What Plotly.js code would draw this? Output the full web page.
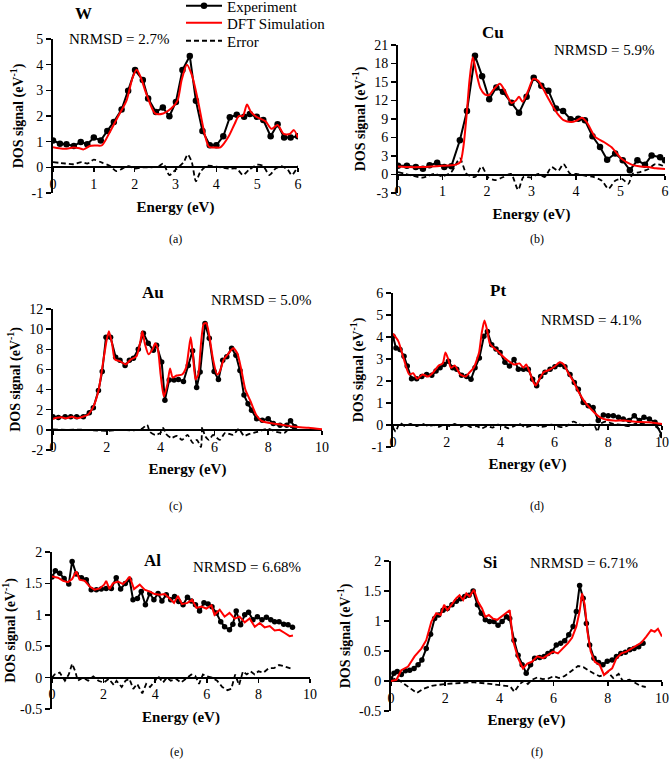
<!DOCTYPE html>
<html>
<head>
<meta charset="utf-8">
<script src="https://cdn.plot.ly/plotly-3.0.1.min.js"></script>
<style>
  body { margin: 0; background: #fff; }
  #chart { width: 671px; height: 764px; }
</style>
</head>
<body>
<div id="chart"></div>
<script>
// ======================== W =========================
const wExpX = [0,0.17,0.33,0.51,0.68,0.84,1.0,1.17,1.33,1.49,1.68,1.84,2.01,2.2,2.33,2.52,2.69,2.85,3.01,3.17,3.35,3.5,3.66,3.84,4.0,4.17,4.33,4.5,4.68,4.82,4.99,5.15,5.33,5.5,5.66,5.82,6.0];
const wExpY = [1.05,0.92,0.9,0.83,0.99,0.9,1.16,1.05,1.42,1.77,2.25,2.98,3.79,3.4,2.68,2.16,2.33,1.99,2.55,3.79,4.34,2.59,1.42,0.86,0.86,1.21,1.95,2.05,1.97,2.08,1.97,1.84,1.21,1.68,1.16,1.16,1.21];
const wDftX = [0,0.15,0.3,0.5,0.65,0.75,0.9,1.05,1.2,1.4,1.6,1.8,1.95,2.05,2.15,2.3,2.5,2.7,2.9,3.05,3.15,3.28,3.4,3.55,3.7,3.82,4.0,4.1,4.3,4.45,4.55,4.65,4.75,4.85,5.0,5.2,5.35,5.5,5.65,5.8,5.9,6.0];
const wDftY = [0.78,0.74,0.72,0.77,0.74,0.7,0.83,0.85,0.86,1.4,2.0,2.6,3.5,3.8,3.5,2.8,2.1,2.1,2.3,2.6,3.4,4.0,3.6,2.6,1.4,0.8,0.77,0.78,1.2,1.7,2.0,2.0,2.45,2.15,1.95,1.8,1.5,1.65,1.3,1.3,1.45,1.15];
const wErrX = [0,0.3,0.5,0.7,0.85,1.0,1.2,1.4,1.55,1.7,1.85,2.0,2.2,2.4,2.6,2.7,2.85,3.0,3.2,3.3,3.4,3.5,3.6,3.75,3.9,4.1,4.3,4.5,4.65,4.8,5.0,5.15,5.3,5.45,5.6,5.75,5.85,6.0];
const wErrY = [0.2,0.15,0.12,0.2,0.15,0.3,0.18,0.05,-0.15,-0.05,0.05,-0.05,0,0,0.05,0.15,-0.3,-0.1,0.2,0.5,0.2,-0.55,-0.2,0.05,0.05,0,-0.05,-0.05,-0.3,-0.1,0.1,0.05,-0.3,-0.05,0.05,-0.1,-0.3,0.05];

// ======================== Cu =========================
const cuExpX = [0,0.2,0.4,0.56,0.71,0.88,1.04,1.2,1.39,1.55,1.73,1.89,2.05,2.21,2.36,2.55,2.72,2.89,3.05,3.22,3.38,3.55,3.71,3.88,4.05,4.2,4.37,4.54,4.7,4.88,5.05,5.21,5.38,5.55,5.7,5.89,6.0];
const cuExpY = [1.4,1.4,1.2,0.95,1.5,1.9,1.2,1.35,5.55,10.3,19.25,15.95,12.2,14.1,13.4,11.65,10.0,12.6,15.7,14.4,13.6,10.7,10.3,8.95,9.05,8.8,6.2,4.46,2.4,3.4,2.3,0.7,2.3,1.6,3.1,2.8,2.3];
const cuDftX = [0,0.25,0.5,0.75,1.0,1.2,1.3,1.4,1.47,1.54,1.61,1.68,1.76,1.85,1.95,2.05,2.15,2.29,2.42,2.55,2.65,2.72,2.8,2.92,3.04,3.15,3.26,3.38,3.49,3.6,3.72,3.9,4.0,4.13,4.24,4.43,4.62,4.8,5.03,5.25,5.45,5.63,5.8,6.0];
const cuDftY = [1.3,1.2,1.2,1.3,1.4,1.5,1.6,2.0,4.5,9.5,15.5,19.0,16.5,14.0,13.0,12.9,13.8,14.7,13.3,11.6,12.0,12.6,11.8,13.5,15.5,15.2,13.9,12.3,10.9,9.7,8.8,8.5,8.7,9.2,8.5,6.1,5.3,4.4,2.5,1.6,1.3,1.2,1.0,0.9];
const cuErrX = [0,0.3,0.55,0.83,1.0,1.2,1.39,1.54,1.73,1.88,2.03,2.18,2.37,2.54,2.7,2.82,3.0,3.15,3.3,3.45,3.6,3.72,3.87,4.01,4.2,4.39,4.58,4.73,4.88,5.03,5.18,5.27,5.44,5.63,5.78,6.0];
const cuErrY = [0.4,-0.15,-0.5,0.1,-0.3,0.4,2.6,0.1,-0.4,1.3,-0.5,-0.9,-0.4,0.1,-2.5,-0.4,-0.5,0.1,-0.4,1.2,0.6,1.7,0.1,0.1,-0.2,-0.4,-1.0,-2.3,-1.0,-0.7,-1.5,0.1,0.4,0.9,1.7,1.3];

// ======================== Au =========================
const auExpX = [0,0.2,0.45,0.66,0.88,1.13,1.35,1.5,1.69,1.83,1.97,2.14,2.33,2.49,2.68,2.84,2.99,3.17,3.36,3.54,3.73,3.85,4.04,4.16,4.32,4.5,4.66,4.85,5.03,5.19,5.34,5.47,5.65,5.81,5.99,6.15,6.31,6.46,6.64,6.8,6.95,7.1,7.25,7.38,7.57,7.78,8.0,8.19,8.44,8.69,8.83,8.99];
const auExpY = [1.3,1.22,1.3,1.3,1.3,1.3,1.7,2.2,3.9,5.8,9.2,9.2,7.2,6.9,6.4,6.9,7.1,8.0,9.6,8.6,7.9,8.4,6.75,2.95,4.95,4.95,5.0,4.8,6.4,7.85,4.2,5.75,10.55,9.1,5.8,5.0,6.9,7.25,8.1,7.4,5.9,3.45,2.6,1.95,1.1,0.96,1.1,0.63,0.46,0.46,0.9,0.3];
const auDftX = [0,0.15,0.3,0.5,0.7,0.9,1.1,1.3,1.5,1.7,1.85,2.0,2.08,2.2,2.3,2.5,2.7,2.9,3.1,3.25,3.32,3.42,3.55,3.7,3.8,3.9,4.0,4.12,4.25,4.35,4.45,4.6,4.8,4.95,5.05,5.12,5.2,5.3,5.4,5.5,5.6,5.7,5.8,5.95,6.1,6.2,6.35,6.5,6.7,6.85,7.0,7.15,7.35,7.55,7.75,8.0,8.5,9.0,9.5,10.0];
const auDftY = [1.1,1.2,1.25,1.15,1.3,1.15,1.3,1.5,2.3,4.0,6.5,9.0,9.8,8.5,7.0,6.8,6.5,7.0,7.3,8.8,9.8,8.5,7.5,8.0,8.6,8.0,5.5,3.3,4.5,6.1,5.2,5.4,5.5,6.2,8.0,9.2,7.5,5.0,5.5,8.5,10.5,10.6,9.5,7.0,5.5,5.8,7.0,7.5,8.1,7.6,6.0,4.0,2.8,1.5,0.9,0.7,0.5,0.3,0.2,0.05];
const auErrX = [0,0.5,1.0,1.5,2.0,2.5,3.0,3.3,3.5,3.6,3.8,4.0,4.1,4.2,4.4,4.6,4.8,5.0,5.2,5.35,5.5,5.55,5.65,5.8,5.95,6.2,6.4,6.7,6.9,7.1,7.3,7.6,8.0,8.3,8.6,8.85,9.0];
const auErrY = [0.05,0,0.02,-0.05,-0.1,0,-0.05,0.1,0.5,-0.2,-0.5,-0.3,0.2,-0.4,-0.8,-0.6,-1.0,-0.5,-1.3,-1.0,-1.7,0.3,-0.6,-1.0,-0.5,-1.0,-0.3,-0.5,0.1,-0.6,-0.4,-0.2,0.1,-0.2,-0.3,0.3,-0.1];

// ======================== Pt =========================
const ptExpX = [0,0.11,0.26,0.41,0.53,0.69,0.88,1.07,1.25,1.44,1.6,1.75,1.9,2.06,2.22,2.37,2.55,2.74,2.9,3.05,3.21,3.38,3.51,3.67,3.83,3.98,4.16,4.33,4.5,4.66,4.85,5.03,5.19,5.34,5.49,5.65,5.84,6.02,6.21,6.39,6.58,6.74,6.89,7.07,7.26,7.44,7.63,7.82,8.0,8.19,8.38,8.56,8.78,8.97,9.16,9.33,9.53,9.74,10.0];
const ptExpY = [4.03,3.5,3.43,3.13,2.68,2.1,2.1,2.2,2.3,2.26,2.45,2.6,2.75,2.9,2.6,2.53,2.26,2.2,2.08,2.6,3.05,4.03,4.25,3.65,3.46,3.3,2.85,2.68,2.98,2.53,2.53,2.53,2.08,1.78,2.2,2.4,2.53,2.65,2.75,2.65,2.3,1.93,1.62,1.02,0.87,0.8,0.2,0.45,0.42,0.42,0.35,0.27,0.2,0.42,0.2,0.35,0.27,0.12,-0.48];
const ptDftX = [0,0.2,0.4,0.6,0.75,0.9,1.1,1.3,1.5,1.7,1.85,1.95,2.05,2.15,2.3,2.5,2.7,2.85,3.0,3.2,3.3,3.4,3.5,3.6,3.75,3.9,4.1,4.3,4.5,4.7,4.85,4.95,5.05,5.2,5.3,5.45,5.6,5.8,6.0,6.2,6.35,6.5,6.7,6.9,7.1,7.3,7.5,7.7,7.9,8.2,8.6,9.0,9.5,10.0];
const ptDftY = [4.15,3.8,3.0,2.3,2.35,2.1,2.3,2.2,2.4,2.7,2.8,3.3,3.0,2.6,2.7,2.3,2.2,2.4,2.6,3.3,4.2,4.75,4.3,3.7,3.5,3.35,3.1,2.9,2.75,2.8,2.6,2.75,2.5,2.0,1.8,2.1,2.4,2.5,2.65,2.85,2.75,2.4,2.0,1.5,1.1,0.8,0.55,0.35,0.25,0.2,0.2,0.15,0.12,0.05];
const ptErrX = [0,0.1,0.25,0.45,0.65,0.9,1.1,1.3,1.5,1.7,1.9,2.1,2.3,2.5,2.7,2.9,3.1,3.3,3.5,3.7,3.9,4.1,4.3,4.5,4.7,4.9,5.1,5.3,5.5,5.7,5.9,6.1,6.3,6.5,6.7,6.9,7.1,7.3,7.5,7.6,7.7,7.9,8.2,8.5,8.8,9.1,9.4,9.7,9.9,10.0];
const ptErrY = [-0.1,-0.3,0.1,-0.05,0.05,-0.05,0.05,-0.05,0,-0.08,0.02,-0.05,0.05,-0.08,0.02,-0.1,-0.05,-0.15,-0.05,-0.12,0.02,-0.05,-0.15,-0.05,0.05,-0.1,-0.05,0,-0.08,-0.05,0.02,-0.05,-0.1,-0.02,0.15,0.05,-0.05,0.02,-0.05,-0.3,0.05,0.15,0.05,0,-0.05,0.1,0.02,-0.02,-0.2,-0.5];

// ======================== Al =========================
const alExpX = [0,0.13,0.3,0.47,0.65,0.78,0.94,1.14,1.33,1.52,1.72,1.91,2.1,2.3,2.49,2.66,2.84,3.01,3.14,3.31,3.46,3.62,3.79,3.95,4.11,4.26,4.43,4.6,4.75,4.91,5.08,5.25,5.4,5.56,5.72,5.89,6.05,6.2,6.37,6.54,6.69,6.88,7.01,7.14,7.31,7.47,7.62,7.79,7.96,8.14,8.31,8.48,8.63,8.8,8.98,9.15,9.32];
const alExpY = [1.6,1.7,1.66,1.58,1.49,1.85,1.65,1.59,1.56,1.4,1.4,1.41,1.42,1.42,1.59,1.41,1.5,1.56,1.24,1.26,1.37,1.16,1.34,1.24,1.34,1.22,1.32,1.24,1.29,1.21,1.16,1.28,1.22,1.16,1.06,1.19,1.17,1.13,1.03,0.89,0.81,0.76,0.85,1.06,0.84,1.0,1.04,0.92,0.97,0.92,0.96,0.92,0.89,0.89,0.85,0.84,0.8];
const alDftX = [0,0.23,0.43,0.62,0.78,0.94,1.07,1.27,1.46,1.65,1.85,2.02,2.1,2.23,2.36,2.56,2.75,2.88,3.01,3.18,3.4,3.59,3.79,3.98,4.18,4.37,4.56,4.73,4.88,5.04,5.25,5.43,5.6,5.79,5.98,6.18,6.3,6.5,6.69,6.88,7.08,7.27,7.47,7.66,7.86,8.05,8.24,8.44,8.63,8.82,9.02,9.21,9.34];
const alDftY = [1.61,1.59,1.54,1.52,1.57,1.69,1.56,1.54,1.45,1.4,1.42,1.48,1.54,1.41,1.5,1.53,1.49,1.54,1.61,1.41,1.48,1.4,1.37,1.33,1.32,1.33,1.26,1.19,1.3,1.17,1.19,1.24,1.11,1.13,1.1,1.15,1.0,1.08,0.97,1.03,0.94,0.97,0.88,0.94,0.81,0.87,0.8,0.82,0.75,0.76,0.71,0.66,0.67];
const alErrX = [0,0.1,0.3,0.5,0.65,0.78,0.9,1.0,1.2,1.4,1.6,1.8,2.0,2.2,2.4,2.5,2.7,2.85,3.0,3.15,3.3,3.5,3.65,3.8,4.0,4.1,4.3,4.45,4.6,4.8,5.0,5.2,5.4,5.55,5.7,5.85,6.0,6.2,6.4,6.6,6.8,6.95,7.1,7.25,7.4,7.55,7.7,7.85,8.0,8.2,8.4,8.6,8.8,9.0,9.3];
const alErrY = [0,0.05,0.08,-0.05,0.05,0.22,0.1,-0.05,0,-0.05,0.02,-0.05,-0.08,-0.02,-0.12,-0.05,-0.15,-0.05,-0.02,-0.18,-0.1,-0.25,-0.1,-0.15,-0.05,0.03,-0.08,0,-0.05,-0.02,-0.08,-0.02,0.05,0.03,-0.1,0.05,0.02,0,-0.05,-0.15,-0.2,-0.18,0.05,-0.12,0.1,0.05,0.1,0.05,0.1,0.08,0.15,0.15,0.2,0.18,0.14];

// ======================== Si =========================
const siExpX = [0,0.11,0.23,0.38,0.53,0.69,0.85,1.0,1.14,1.3,1.46,1.61,1.76,1.92,2.08,2.25,2.41,2.57,2.72,2.88,3.03,3.19,3.33,3.48,3.64,3.8,3.95,4.1,4.26,4.38,4.54,4.69,4.84,4.99,5.15,5.3,5.49,5.65,5.79,5.94,6.1,6.26,6.41,6.56,6.72,6.84,6.96,7.09,7.21,7.33,7.49,7.66,7.82,7.98,8.16,8.32,8.48,8.65,8.81,8.97,9.14,9.3];
const siExpY = [0.03,0.13,0.16,0.11,0.17,0.18,0.21,0.27,0.35,0.54,0.78,1.04,1.1,1.18,1.21,1.27,1.33,1.37,1.41,1.43,1.5,1.27,1.13,1.02,0.99,0.99,0.93,0.99,1.07,1.04,0.68,0.43,0.27,0.13,0.27,0.38,0.39,0.41,0.46,0.49,0.6,0.63,0.67,0.77,0.91,1.16,1.59,1.38,0.96,0.6,0.38,0.31,0.27,0.33,0.35,0.41,0.46,0.48,0.52,0.54,0.57,0.63];
const siDftX = [0,0.2,0.38,0.63,0.87,1.12,1.3,1.49,1.67,1.83,1.96,2.08,2.23,2.41,2.53,2.66,2.78,2.9,3.06,3.21,3.36,3.48,3.61,3.76,3.92,4.07,4.22,4.38,4.5,4.69,4.87,5.03,5.2,5.4,5.61,5.79,5.98,6.16,6.35,6.53,6.68,6.84,6.96,7.05,7.15,7.25,7.37,7.52,7.7,7.86,8.01,8.16,8.32,8.5,8.69,8.87,9.06,9.24,9.42,9.6,9.73,9.85,10.0];
const siDftY = [0,0.02,0.18,0.24,0.41,0.54,0.68,0.99,1.13,1.1,1.27,1.18,1.27,1.38,1.43,1.35,1.46,1.41,1.52,1.32,1.21,1.07,1.1,1.04,1.02,1.07,1.13,1.18,0.68,0.38,0.21,0.29,0.32,0.41,0.38,0.43,0.49,0.46,0.54,0.63,0.72,0.91,1.16,1.46,1.27,0.82,0.49,0.32,0.27,0.1,0.16,0.21,0.38,0.46,0.49,0.54,0.6,0.64,0.74,0.85,0.82,0.87,0.74];
const siErrX = [0,0.2,0.4,0.7,0.95,1.2,1.5,2.0,2.5,3.0,3.5,4.0,4.4,4.55,4.75,4.9,5.05,5.2,5.4,5.6,5.8,6.0,6.2,6.4,6.6,6.9,7.1,7.3,7.5,7.7,7.85,8.0,8.2,8.4,8.55,8.8,9.0,9.2,9.4];
const siErrY = [0,0.05,-0.02,-0.12,-0.2,-0.13,-0.08,-0.05,-0.03,-0.02,-0.04,-0.07,-0.09,-0.18,-0.05,0,-0.05,0.02,0.06,0.03,0.04,0.08,0.05,0.08,0.15,0.25,0.23,0.17,0.12,0.08,0.1,0.15,0.05,0.12,0,0.02,-0.03,-0.08,-0.1];

// ======================== layout helpers =========================
const W = 671, H = 764;
const FONT = "Liberation Serif";
const px = v => v / W;          // pixel -> paper x
const py = v => 1 - v / H;      // pixel -> paper y

// plot boxes in pixels: [left, right, top, bottom], plus axis ranges
const panels = [
  { box: [53, 298, 39, 193],   xr: [0, 6],  yr: [-1, 5],   dy: 1,   sm: 0.7, exp: [wExpX, wExpY],   dft: [wDftX, wDftY],   err: [wErrX, wErrY] },
  { box: [398, 665, 45, 193],  xr: [0, 6],  yr: [-3, 21],  dy: 3,   sm: 0.7, exp: [cuExpX, cuExpY], dft: [cuDftX, cuDftY], err: [cuErrX, cuErrY] },
  { box: [53, 322, 309, 450],  xr: [0, 10], yr: [-2, 12],  dy: 2,   sm: 0.6, exp: [auExpX, auExpY], dft: [auDftX, auDftY], err: [auErrX, auErrY] },
  { box: [393, 662, 293, 447], xr: [0, 10], yr: [-1, 6],   dy: 1,   sm: 0.6, exp: [ptExpX, ptExpY], dft: [ptDftX, ptDftY], err: [ptErrX, ptErrY] },
  { box: [52, 310, 552, 709],  xr: [0, 10], yr: [-0.5, 2], dy: 0.5, sm: 0,   exp: [alExpX, alExpY], dft: [alDftX, alDftY], err: [alErrX, alErrY] },
  { box: [391, 662, 561, 711], xr: [0, 10], yr: [-0.5, 2], dy: 0.5, sm: 0,   exp: [siExpX, siExpY], dft: [siDftX, siDftY], err: [siErrX, siErrY] }
];

// tick values along a range, labelled with a plain hyphen like the figure
const ticksFor = (r, d) => {
  const vals = [];
  for (let k = 0; r[0] + k * d <= r[1] + 1e-9; k++) vals.push(+(r[0] + k * d).toFixed(2));
  return { tickmode: "array", tickvals: vals, ticktext: vals.map(v => String(v)) };
};

// one legend per row so the rows sit as tight as in the figure
const legendBox = (rowY) => ({
  x: px(181), y: py(rowY), xanchor: "left", yanchor: "middle",
  font: { family: FONT, size: 15, color: "#000" },
  bgcolor: "rgba(0,0,0,0)", borderwidth: 0, itemwidth: 36
});

const data = [];
const layout = {
  width: W, height: H,
  // autoexpand off: the legends poke above the paper and must not shrink the plots
  margin: { l: 0, r: 0, t: 0, b: 0, autoexpand: false },
  paper_bgcolor: "#fff", plot_bgcolor: "rgba(0,0,0,0)",
  font: { family: FONT, size: 14, color: "#000" },
  showlegend: true,
  legend: legendBox(6),
  legend2: legendBox(23),
  legend3: legendBox(41),
  hovermode: false,
  annotations: []
};

panels.forEach((p, i) => {
  const n = i === 0 ? "" : String(i + 1);
  const xa = "x" + n, ya = "y" + n;
  const xd = [px(p.box[0]), px(p.box[1])];
  const yd = [py(p.box[3]), py(p.box[2])];
  const zeroPos = yd[0] + (0 - p.yr[0]) / (p.yr[1] - p.yr[0]) * (yd[1] - yd[0]);
  const shape = p.sm > 0 ? "spline" : "linear";

  data.push({
    x: p.err[0], y: p.err[1], xaxis: xa, yaxis: ya, type: "scatter", mode: "lines",
    name: "Error", legend: "legend3", showlegend: i === 0,
    line: { color: "#000", width: 1.8, dash: "5px,3px", shape: shape, smoothing: p.sm }
  });
  data.push({
    x: p.exp[0], y: p.exp[1], xaxis: xa, yaxis: ya, type: "scatter", mode: "lines+markers",
    name: "Experiment", legend: "legend", showlegend: i === 0,
    line: { color: "#000", width: 2 },
    marker: { color: "#000", size: i >= 2 ? 5.5 : 6.5 }
  });
  data.push({
    x: p.dft[0], y: p.dft[1], xaxis: xa, yaxis: ya, type: "scatter", mode: "lines",
    name: "DFT Simulation", legend: "legend2", showlegend: i === 0,
    line: { color: "#ff0000", width: 2, shape: shape, smoothing: p.sm }
  });

  layout["xaxis" + n] = Object.assign({
    domain: xd, range: p.xr, anchor: "free", position: zeroPos,
    showline: true, linecolor: "#000", linewidth: 2, ticks: "outside", ticklen: 4,
    tickcolor: "#000", tickwidth: 1.5, showgrid: false, zeroline: false, layer: "below traces",
    tickfont: { family: FONT, size: 14, color: "#000" },
    title: { text: "<b>Energy (eV)</b>", font: { family: FONT, size: 15, color: "#000" }, standoff: 9 }
  }, ticksFor(p.xr, p.xr[1] > 6 ? 2 : 1));
  layout["yaxis" + n] = Object.assign({
    domain: yd, range: p.yr, anchor: xa,
    showline: true, linecolor: "#000", linewidth: 2, ticks: "outside", ticklen: 5,
    tickcolor: "#000", tickwidth: 1.5, showgrid: false, zeroline: false,
    tickfont: { family: FONT, size: 14, color: "#000" },
    title: { text: "<b>DOS signal (eV<sup>-1</sup>)</b>", font: { family: FONT, size: 14, color: "#000" }, standoff: 5 }
  }, ticksFor(p.yr, p.dy));
});

// element names, NRMSD labels, sub-figure captions
const elements = ["W", "Cu", "Au", "Pt", "Al", "Si"];
const elementPos = [[83, 13], [493, 33], [153, 293], [498, 290], [152, 560], [490, 562]];
const nrmsd = ["NRMSD = 2.7%", "NRMSD = 5.9%", "NRMSD = 5.0%", "NRMSD = 4.1%", "NRMSD = 6.68%", "NRMSD = 6.71%"];
const nrmsdPos = [[119, 39], [604, 50], [261, 300], [591, 320], [247, 567], [584, 563]];
const captions = ["(a)", "(b)", "(c)", "(d)", "(e)", "(f)"];
const captionPos = [[175, 239], [537, 239], [175, 506], [537, 506], [176, 752], [537, 752]];

const note = (t, pos, size) => ({
  text: t, x: px(pos[0]), y: py(pos[1]), xref: "paper", yref: "paper",
  xanchor: "center", yanchor: "middle", showarrow: false,
  font: { family: FONT, size: size, color: "#000" }
});
elements.forEach((t, i) => layout.annotations.push(note("<b>" + t + "</b>", elementPos[i], 17)));
nrmsd.forEach((t, i) => layout.annotations.push(note(t, nrmsdPos[i], 15)));
captions.forEach((t, i) => layout.annotations.push(note(t, captionPos[i], 12)));

Plotly.newPlot("chart", data, layout, { displayModeBar: false, staticPlot: true });
</script>
</body>
</html>
